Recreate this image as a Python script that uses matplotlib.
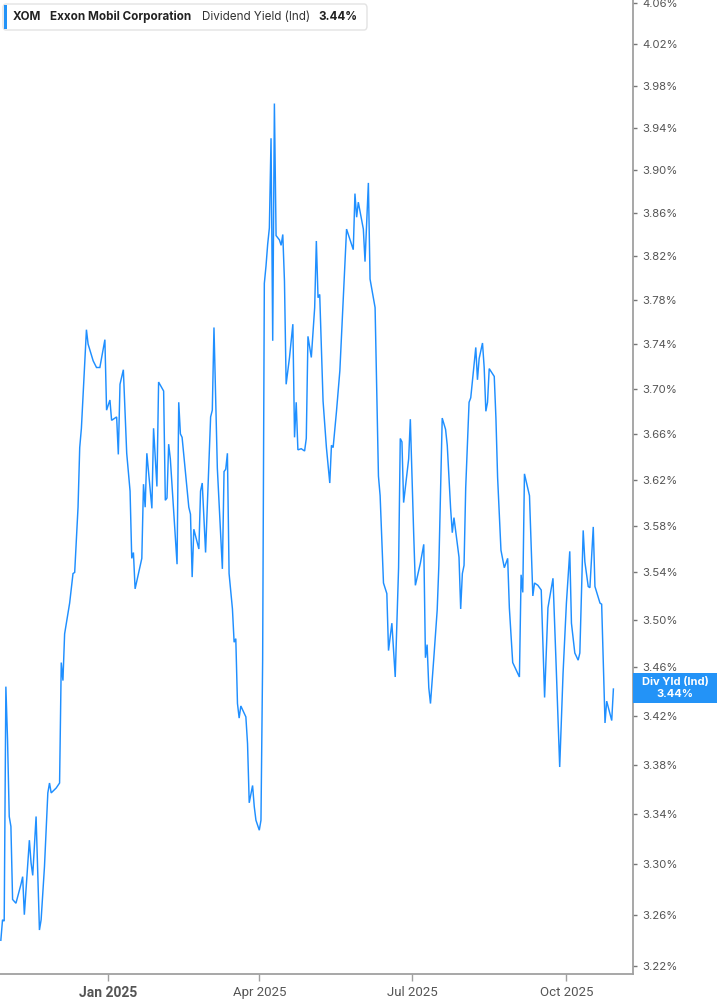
import matplotlib
matplotlib.use("Agg")
import matplotlib.pyplot as plt
from matplotlib.ticker import FixedLocator, FuncFormatter, NullLocator, NullFormatter
from matplotlib.patches import FancyBboxPatch, Rectangle
import pandas as pd

# ---------------- data ----------------
ticker = "XOM"
company = "Exxon Mobil Corporation"
metric = "Dividend Yield (Ind)"
tag = "Div Yld (Ind)"
last_label = "3.44%"

dates = [
    "2024-10-29", "2024-10-30", "2024-10-31", "2024-11-01", "2024-11-02", "2024-11-03",
    "2024-11-04", "2024-11-05", "2024-11-07", "2024-11-08", "2024-11-10", "2024-11-11",
    "2024-11-12", "2024-11-15", "2024-11-16", "2024-11-17", "2024-11-19", "2024-11-20",
    "2024-11-21", "2024-11-22", "2024-11-24", "2024-11-26", "2024-11-27", "2024-11-28",
    "2024-12-01", "2024-12-03", "2024-12-04", "2024-12-05", "2024-12-06", "2024-12-09",
    "2024-12-11", "2024-12-12", "2024-12-14", "2024-12-15", "2024-12-16", "2024-12-19",
    "2024-12-20", "2024-12-23", "2024-12-25", "2024-12-27", "2024-12-30", "2024-12-31",
    "2025-01-02", "2025-01-03", "2025-01-06", "2025-01-07", "2025-01-08", "2025-01-10",
    "2025-01-12", "2025-01-14", "2025-01-15", "2025-01-16", "2025-01-17", "2025-01-21",
    "2025-01-22", "2025-01-23", "2025-01-24", "2025-01-27", "2025-01-28", "2025-01-30",
    "2025-01-31", "2025-02-03", "2025-02-04", "2025-02-05", "2025-02-06", "2025-02-07",
    "2025-02-11", "2025-02-12", "2025-02-13", "2025-02-14", "2025-02-18", "2025-02-19",
    "2025-02-20", "2025-02-21", "2025-02-24", "2025-02-25", "2025-02-26", "2025-02-28",
    "2025-03-03", "2025-03-04", "2025-03-05", "2025-03-07", "2025-03-10", "2025-03-11",
    "2025-03-12", "2025-03-13", "2025-03-14", "2025-03-16", "2025-03-17", "2025-03-18",
    "2025-03-19", "2025-03-20", "2025-03-21", "2025-03-24", "2025-03-25", "2025-03-26",
    "2025-03-28", "2025-03-29", "2025-03-30", "2025-04-01", "2025-04-02", "2025-04-03",
    "2025-04-04", "2025-04-05", "2025-04-06", "2025-04-07", "2025-04-08", "2025-04-09",
    "2025-04-10", "2025-04-11", "2025-04-13", "2025-04-14", "2025-04-15", "2025-04-16",
    "2025-04-17", "2025-04-19", "2025-04-21", "2025-04-22", "2025-04-23", "2025-04-24",
    "2025-04-26", "2025-04-28", "2025-04-29", "2025-04-30", "2025-05-02", "2025-05-04",
    "2025-05-05", "2025-05-06", "2025-05-07", "2025-05-09", "2025-05-11", "2025-05-13",
    "2025-05-14", "2025-05-15", "2025-05-17", "2025-05-19", "2025-05-23", "2025-05-27",
    "2025-05-28", "2025-05-29", "2025-05-30", "2025-06-02", "2025-06-03", "2025-06-05",
    "2025-06-06", "2025-06-09", "2025-06-11", "2025-06-12", "2025-06-14", "2025-06-16",
    "2025-06-17", "2025-06-19", "2025-06-21", "2025-06-23", "2025-06-24", "2025-06-25",
    "2025-06-26", "2025-06-29", "2025-06-30", "2025-07-02", "2025-07-03", "2025-07-06",
    "2025-07-08", "2025-07-09", "2025-07-10", "2025-07-11", "2025-07-12", "2025-07-14",
    "2025-07-16", "2025-07-17", "2025-07-19", "2025-07-21", "2025-07-22", "2025-07-24",
    "2025-07-25", "2025-07-26", "2025-07-29", "2025-07-30", "2025-07-31", "2025-08-01",
    "2025-08-02", "2025-08-04", "2025-08-05", "2025-08-06", "2025-08-08", "2025-08-09",
    "2025-08-10", "2025-08-12", "2025-08-13", "2025-08-14", "2025-08-15", "2025-08-16",
    "2025-08-19", "2025-08-20", "2025-08-21", "2025-08-23", "2025-08-25", "2025-08-27",
    "2025-08-28", "2025-08-30", "2025-09-03", "2025-09-04", "2025-09-05", "2025-09-06",
    "2025-09-09", "2025-09-11", "2025-09-12", "2025-09-14", "2025-09-16", "2025-09-18",
    "2025-09-20", "2025-09-23", "2025-09-25", "2025-09-27", "2025-09-29", "2025-10-01",
    "2025-10-03", "2025-10-04", "2025-10-06", "2025-10-08", "2025-10-09", "2025-10-11",
    "2025-10-12", "2025-10-14", "2025-10-15", "2025-10-17", "2025-10-18", "2025-10-21",
    "2025-10-22", "2025-10-24", "2025-10-25", "2025-10-28", "2025-10-29",
]

yield_pct = [
    3.240, 3.256, 3.255, 3.444, 3.400, 3.338,
    3.330, 3.272, 3.269, 3.274, 3.284, 3.290,
    3.260, 3.319, 3.301, 3.291, 3.338, 3.293,
    3.248, 3.256, 3.298, 3.357, 3.365, 3.357,
    3.361, 3.365, 3.464, 3.449, 3.488, 3.514,
    3.539, 3.540, 3.596, 3.648, 3.665, 3.753,
    3.740, 3.725, 3.719, 3.719, 3.744, 3.681,
    3.690, 3.672, 3.675, 3.642, 3.704, 3.717,
    3.643, 3.610, 3.552, 3.557, 3.526, 3.552,
    3.616, 3.596, 3.643, 3.595, 3.665, 3.614,
    3.706, 3.698, 3.602, 3.604, 3.651, 3.638,
    3.547, 3.688, 3.660, 3.657, 3.596, 3.590,
    3.536, 3.577, 3.560, 3.610, 3.617, 3.557,
    3.675, 3.681, 3.755, 3.630, 3.543, 3.627,
    3.629, 3.643, 3.539, 3.509, 3.481, 3.484,
    3.430, 3.418, 3.428, 3.419, 3.397, 3.349,
    3.363, 3.346, 3.335, 3.327, 3.335, 3.466,
    3.795, 3.811, 3.831, 3.846, 3.930, 3.743,
    3.963, 3.839, 3.835, 3.830, 3.840, 3.797,
    3.704, 3.728, 3.758, 3.657, 3.688, 3.646,
    3.647, 3.645, 3.656, 3.747, 3.728, 3.773,
    3.834, 3.782, 3.785, 3.689, 3.648, 3.617,
    3.650, 3.648, 3.680, 3.716, 3.845, 3.826,
    3.878, 3.856, 3.870, 3.845, 3.815, 3.888,
    3.799, 3.773, 3.623, 3.606, 3.531, 3.522,
    3.474, 3.497, 3.452, 3.544, 3.656, 3.653,
    3.600, 3.638, 3.673, 3.573, 3.529, 3.548,
    3.564, 3.468, 3.479, 3.443, 3.430, 3.468,
    3.508, 3.546, 3.674, 3.664, 3.650, 3.595,
    3.574, 3.587, 3.553, 3.509, 3.539, 3.546,
    3.613, 3.688, 3.692, 3.707, 3.737, 3.708,
    3.727, 3.741, 3.719, 3.680, 3.688, 3.718,
    3.711, 3.674, 3.622, 3.559, 3.544, 3.552,
    3.510, 3.464, 3.452, 3.538, 3.523, 3.625,
    3.606, 3.520, 3.531, 3.529, 3.525, 3.435,
    3.510, 3.535, 3.457, 3.378, 3.455, 3.514,
    3.558, 3.497, 3.472, 3.466, 3.472, 3.576,
    3.549, 3.528, 3.527, 3.579, 3.528, 3.514,
    3.513, 3.414, 3.432, 3.416, 3.442,
]

y_ticks = [3.22, 3.26, 3.30, 3.34, 3.38, 3.42, 3.46, 3.50, 3.54, 3.58, 3.62,
           3.66, 3.70, 3.74, 3.78, 3.82, 3.86, 3.90, 3.94, 3.98, 4.02, 4.06]
x_tick_dates = ["2025-01-01", "2025-04-01", "2025-07-01", "2025-10-01"]
x_tick_labels = ["Jan 2025", "Apr 2025", "Jul 2025", "Oct 2025"]

# ---------------- style ----------------
W, H = 717, 1005
LINE = "#1f8fff"
BOXBLUE = "#2393f7"
GRAY = "#a0a0a0"
TXT = "#555555"
UI_FONT = ["Inter", "DejaVu Sans"]
NARROW = ["Liberation Sans Narrow", "Roboto", "DejaVu Sans"]

fig = plt.figure(figsize=(W / 100, H / 100), dpi=100)
fig.patch.set_facecolor("white")

ax_left, ax_right = 0.0, 632.7
ax_top, ax_bottom = 0.0, 974.0
ax = fig.add_axes([ax_left / W, 1 - ax_bottom / H, (ax_right - ax_left) / W, (ax_bottom - ax_top) / H])

x = pd.to_datetime(dates)
ax.plot(x, yield_pct, color=LINE, lw=1.05, solid_joinstyle="miter")

ax.set_yscale("log")
ax.set_ylim(3.2138, 4.063)
jan1 = pd.Timestamp("2025-01-01")
ax.set_xlim(jan1 - pd.Timedelta(days=64.5), jan1 + pd.Timedelta(days=312.5))

ax.yaxis.tick_right()
ax.yaxis.set_major_locator(FixedLocator(y_ticks))
ax.yaxis.set_minor_locator(NullLocator())
ax.yaxis.set_minor_formatter(NullFormatter())
ax.yaxis.set_major_formatter(FuncFormatter(lambda v, p: f"{v:.2f}%"))

ax.set_xticks(pd.to_datetime(x_tick_dates))
ax.set_xticklabels(x_tick_labels)
ax.xaxis.set_minor_locator(NullLocator())

for s in ("left", "top"):
    ax.spines[s].set_visible(False)
for s in ("right", "bottom"):
    ax.spines[s].set_color(GRAY)
    ax.spines[s].set_linewidth(1.3)

ax.tick_params(axis="y", which="major", right=True, left=False, length=3, width=1,
               color="#777777", labelcolor=TXT, labelsize=8.2, pad=4)
ax.tick_params(axis="x", which="major", length=5, width=1, color=GRAY,
               labelcolor=TXT, labelsize=9.5, pad=3.5)
for lab in ax.get_yticklabels():
    lab.set_fontfamily(UI_FONT)
for i, lab in enumerate(ax.get_xticklabels()):
    lab.set_fontfamily(NARROW)
    if i == 0:
        lab.set_fontweight("bold")
        lab.set_fontsize(10)

# ---------------- header box ----------------
def fx(px):
    return px / W

def fy(py):
    return 1 - py / H

fig.add_artist(FancyBboxPatch((fx(3), fy(30)), fx(364), 26 / H,
                              boxstyle="round,pad=0,rounding_size=0.004",
                              transform=fig.transFigure, fc="white", ec="#e3e3e3", lw=1))
fig.add_artist(Rectangle((fx(4), fy(29)), fx(3), 24 / H, transform=fig.transFigure,
                         fc=BOXBLUE, ec="none"))
hy = fy(17)
HFS = 8.4
fig.text(fx(13), hy, ticker, fontsize=HFS, fontweight="bold", color="#222222",
         family=UI_FONT, va="center", ha="left")
fig.text(fx(50), hy, company, fontsize=HFS, fontweight="bold", color="#222222",
         family=UI_FONT, va="center", ha="left")
fig.text(fx(202), hy, metric, fontsize=HFS, color="#333333",
         family=UI_FONT, va="center", ha="left")
fig.text(fx(318), hy, last_label, fontsize=HFS, fontweight="bold", color="#222222",
         family=UI_FONT, va="center", ha="left")

# ---------------- last value tag ----------------
fig.add_artist(Rectangle((fx(632.7), fy(703)), fx(717 - 632.7), 30 / H,
                         transform=fig.transFigure, fc=BOXBLUE, ec="none"))
fig.text(fx(675), fy(681.5), tag, fontsize=8, fontweight="bold", color="white",
         family=UI_FONT, va="center", ha="center")
fig.text(fx(675), fy(694), last_label, fontsize=8, fontweight="bold", color="white",
         family=UI_FONT, va="center", ha="center")

fig.savefig("out.png", dpi=100, facecolor="white")
